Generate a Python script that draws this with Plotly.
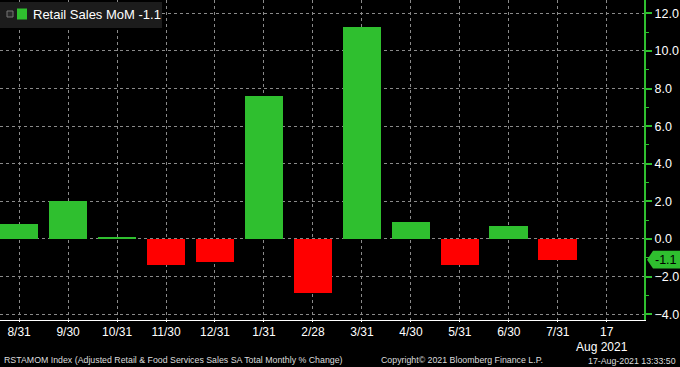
import plotly.graph_objects as go

# Data
categories = ["8/31", "9/30", "10/31", "11/30", "12/31", "1/31", "2/28", "3/31",
              "4/30", "5/31", "6/30", "7/31"]
tick_labels = categories + ["17"]
values = [0.8, 2.0, 0.1, -1.4, -1.2, 7.6, -2.9, 11.3, 0.9, -1.4, 0.7, -1.1]
last_value = -1.1
y_ticks = [12.0, 10.0, 8.0, 6.0, 4.0, 2.0, 0.0, -2.0, -4.0]

GREEN = "#2fbf2f"
RED = "#ff0000"
FONT = "Liberation Sans"

positions = list(range(len(categories)))
colors = [GREEN if v >= 0 else RED for v in values]

fig = go.Figure()
fig.add_trace(go.Bar(
    x=positions, y=values, width=0.79,
    marker=dict(color=colors, line=dict(width=0)),
    showlegend=False, hoverinfo="skip",
))

W, H = 680, 367
ML, MR, MT, MB = 0, 36, 0, 47
plot_w = W - ML - MR
plot_h = H - MT - MB

fig.update_layout(
    width=W, height=H,
    margin=dict(l=ML, r=MR, t=MT, b=MB, pad=0),
    paper_bgcolor="#000000", plot_bgcolor="#000000",
    font=dict(family=FONT, color="#ffffff", size=12),
    bargap=0,
    xaxis=dict(
        range=[-0.39, 12.76],
        tickvals=list(range(len(tick_labels))), ticktext=tick_labels,
        showgrid=True, gridcolor="#8a8a8a", griddash="dot", gridwidth=1,
        showline=True, linecolor="#ffffff", linewidth=1,
        ticks="outside", ticklen=1, tickcolor="#ffffff",
        tickfont=dict(size=12, color="#ffffff", family=FONT),
        zeroline=False, fixedrange=True,
    ),
    yaxis=dict(
        side="right", range=[-4.31, 12.71],
        tickvals=y_ticks, tickformat=".1f",
        showgrid=True, gridcolor="#8a8a8a", griddash="dot", gridwidth=1,
        showline=True, linecolor=GREEN, linewidth=2,
        ticks="outside", ticklen=6, tickwidth=2, tickcolor=GREEN,
        minor=dict(dtick=1, tick0=0, ticks="outside", ticklen=3, tickcolor=GREEN,
                   tickwidth=1, showgrid=False),
        tickfont=dict(size=12.5, color="#ffffff", family=FONT),
        zeroline=False, fixedrange=True,
    ),
)

def px_x(px):
    return (px - ML) / plot_w

def px_y(py):
    return (MT + plot_h - py) / plot_h

# Legend box
fig.add_shape(type="rect", xref="paper", yref="paper",
              x0=px_x(0), x1=px_x(162), y0=px_y(28), y1=px_y(2),
              fillcolor="#1c1c1c", line=dict(width=0), layer="above")
fig.add_shape(type="rect", xref="paper", yref="paper",
              x0=px_x(7), x1=px_x(13), y0=px_y(17), y1=px_y(11),
              fillcolor="#2a2a2a", line=dict(width=1, color="#777777"), layer="above")
fig.add_shape(type="rect", xref="paper", yref="paper",
              x0=px_x(17), x1=px_x(27), y0=px_y(19.5), y1=px_y(8.5),
              fillcolor=GREEN, line=dict(width=0), layer="above")
fig.add_annotation(xref="paper", yref="paper", x=px_x(31), y=px_y(14.5),
                   text="Retail Sales MoM -1.1", showarrow=False,
                   xanchor="left", yanchor="middle",
                   font=dict(size=13, color="#ffffff", family=FONT))

# Last value tag on the right axis
x_tip, x_b, x_r = px_x(647), px_x(653), px_x(680)
h = 0.47
fig.add_shape(type="path", xref="paper", yref="y",
              path=f"M {x_tip},{last_value} L {x_b},{last_value + h} L {x_r},{last_value + h} "
                   f"L {x_r},{last_value - h} L {x_b},{last_value - h} Z",
              fillcolor=GREEN, line=dict(width=0), layer="above")
fig.add_annotation(xref="paper", yref="y", x=px_x(679), y=last_value,
                   text=f"{last_value:.1f}", showarrow=False,
                   xanchor="right", yanchor="middle",
                   font=dict(size=12.5, color="#000000", family=FONT))

# Month/year label under last tick
fig.add_annotation(xref="paper", yref="paper", x=px_x(602), y=px_y(347),
                   text="Aug 2021", showarrow=False, xanchor="center", yanchor="middle",
                   font=dict(size=12, color="#ffffff", family=FONT))

# Footer
foot_font = dict(size=8.8, color="#dddddd", family=FONT)
fig.add_annotation(xref="paper", yref="paper", x=px_x(2), y=px_y(360),
                   text="RSTAMOM Index (Adjusted Retail &amp; Food Services Sales SA Total Monthly % Change)",
                   showarrow=False, xanchor="left", yanchor="middle", font=foot_font)
fig.add_annotation(xref="paper", yref="paper", x=px_x(462), y=px_y(360),
                   text="Copyright© 2021 Bloomberg Finance L.P.",
                   showarrow=False, xanchor="center", yanchor="middle", font=foot_font)
fig.add_annotation(xref="paper", yref="paper", x=px_x(678), y=px_y(361),
                   text="17-Aug-2021 13:33:50",
                   showarrow=False, xanchor="right", yanchor="middle", font=foot_font)

fig.write_html("out.html")
